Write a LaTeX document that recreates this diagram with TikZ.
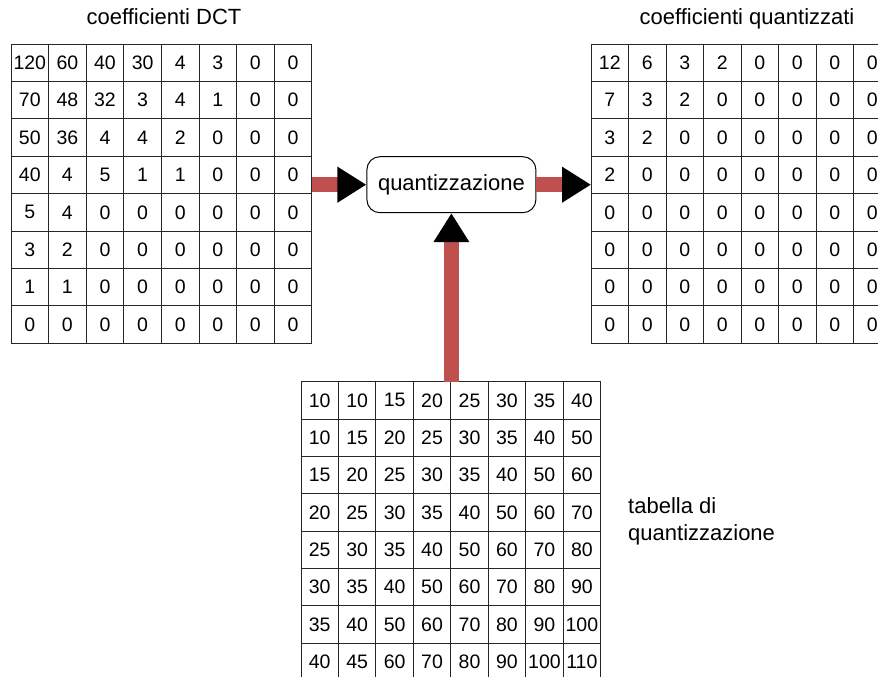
\documentclass[tikz,border=0pt]{standalone}
\usepackage{fontspec}
\setmainfont{Liberation Sans}
\usetikzlibrary{arrows.meta}
\definecolor{barred}{HTML}{C0504D}

\tikzset{
  gridline/.style={draw=black!85, line width=0.9pt},
  cellnum/.style={font=\fontsize{19.5}{22}\selectfont, inner sep=0pt},
  captext/.style={font=\fontsize{22}{27.4}\selectfont, inner sep=0pt},
  procbox/.style={draw=black, line width=1pt, rounded corners=13pt,
    minimum width=169pt, minimum height=56pt, inner sep=0pt,
    font=\fontsize{22}{26}\selectfont},
  flow/.style={draw=barred, line width=15pt,
    -{Triangle[length=29pt,width=34pt,color=black]}},
}

% 8x8 table of numbers: name, left x, top y, cell width, cell height, rows
\newcommand\numgrid[6]{%
  \node[gridline, inner sep=0pt, outer sep=0pt,
        minimum width=#4*8pt, minimum height=#5*8pt, anchor=north west]
        (#1) at (#2,-#3) {};
  \foreach \k in {1,...,7} {
    \draw[gridline] ({#2+\k*#4},{-#3}) -- ({#2+\k*#4},{-#3-8*#5});
    \draw[gridline] ({#2},{-#3-\k*#5}) -- ({#2+8*#4},{-#3-\k*#5});
  }
  \foreach \row [count=\r] in {#6} {
    \foreach \v [count=\c] in \row {
      \node[cellnum] (#1-\r-\c) at ({#2+(\c-0.5)*#4},{-#3-(\r-0.5)*#5}) {\v};
    }
  }%
}

\begin{document}
\begin{tikzpicture}[x=1pt, y=1pt]
\useasboundingbox (0,0) rectangle (878,-677);

% DCT coefficients
\numgrid{dct}{11}{44}{37.6}{37.4}{
  {120,60,40,30,4,3,0,0},
  {70,48,32,3,4,1,0,0},
  {50,36,4,4,2,0,0,0},
  {40,4,5,1,1,0,0,0},
  {5,4,0,0,0,0,0,0},
  {3,2,0,0,0,0,0,0},
  {1,1,0,0,0,0,0,0},
  {0,0,0,0,0,0,0,0}}

% quantized coefficients
\numgrid{qc}{591}{44}{37.5}{37.4}{
  {12,6,3,2,0,0,0,0},
  {7,3,2,0,0,0,0,0},
  {3,2,0,0,0,0,0,0},
  {2,0,0,0,0,0,0,0},
  {0,0,0,0,0,0,0,0},
  {0,0,0,0,0,0,0,0},
  {0,0,0,0,0,0,0,0},
  {0,0,0,0,0,0,0,0}}

% quantization table
\numgrid{qt}{301}{381.7}{37.45}{37.35}{
  {10,10,15,20,25,30,35,40},
  {10,15,20,25,30,35,40,50},
  {15,20,25,30,35,40,50,60},
  {20,25,30,35,40,50,60,70},
  {25,30,35,40,50,60,70,80},
  {30,35,40,50,60,70,80,90},
  {35,40,50,60,70,80,90,100},
  {40,45,60,70,80,90,100,110}}

% captions (base of a two-line node is the last line's baseline)
\node[captext, anchor=base] (tdct) at (164,-25) {coefficienti DCT};
\node[captext, anchor=base] (tqc) at (747,-25) {coefficienti quantizzati};
\node[captext, anchor=base west, align=left] (tqt) at (628,-540.7)
  {tabella di\\quantizzazione};

% quantization step
\node[procbox] (qbox) at (451.4,-184.7) {quantizzazione};

\draw[flow] (dct.east |- qbox.west) -- (qbox.west);
\draw[flow] (qbox.east) -- (qc.west |- qbox.east);
\draw[flow] (qbox.south |- qt.north) -- (qbox.south);
\end{tikzpicture}
\end{document}
